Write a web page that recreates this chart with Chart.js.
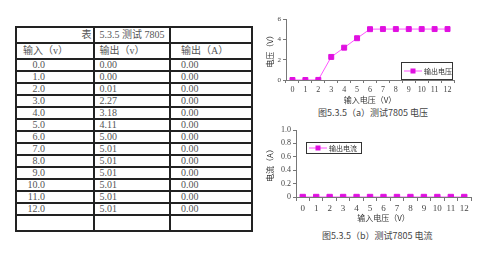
<!DOCTYPE html>
<html>
<head>
    <meta charset="utf-8">
    <title>测试 7805</title>
    <style>
        body {
            margin: 0;
            padding: 0;
            width: 500px;
            height: 262px;
            background: #fff;
            position: relative;
            overflow: hidden;
            font-family: "Liberation Serif", "Noto Sans CJK SC", serif;
        }
        #tbl {
            position: absolute;
            left: 15px;
            top: 26px;
            width: 238px;
            border-collapse: collapse;
            color: #555;
            font-size: 10px;
        }
        #tbl td {
            border: 2px solid #222;
            padding: 0;
            height: 10px;
            line-height: 10px;
            vertical-align: bottom;
        }
        #tbl td.c1 { width: 76px; padding-left: 6px; }
        #tbl td.c2 { width: 77px; padding-left: 5px; }
        #tbl td.c3 { width: 77px; padding-left: 10px; }
        #tbl tr.big td { height: 14px; line-height: 14px; }
        #tbl .num { display: inline-block; width: 22px; text-align: right; }
        .cap {
            position: absolute;
            font-size: 9px;
            color: #444;
            font-family: "Noto Sans CJK SC", sans-serif;
            white-space: nowrap;
        }
        canvas { position: absolute; }
    </style>
    <script src="https://cdn.jsdelivr.net/npm/chart.js"></script>
</head>
<body>
    <table id="tbl"></table>

    <canvas id="chart-v" style="left:255px; top:5px;" width="210" height="100"></canvas>
    <div class="cap" style="left:318px; top:106px;">图5.3.5（a）测试7805 电压</div>

    <canvas id="chart-a" style="left:255px; top:118px;" width="225" height="105"></canvas>
    <div class="cap" style="left:322px; top:229px;">图5.3.5（b）测试7805 电流</div>

    <script>
        const inputV = ['0.0', '1.0', '2.0', '3.0', '4.0', '5.0', '6.0', '7.0', '8.0', '9.0', '10.0', '11.0', '12.0'];
        const outputV = [0.00, 0.00, 0.01, 2.27, 3.18, 4.11, 5.00, 5.01, 5.01, 5.01, 5.01, 5.01, 5.01];
        const outputA = [0.00, 0.00, 0.00, 0.00, 0.00, 0.00, 0.00, 0.00, 0.00, 0.00, 0.00, 0.00, 0.00];
        const xLabels = ['0', '1', '2', '3', '4', '5', '6', '7', '8', '9', '10', '11', '12'];
        const headers = ['输入（v）', '输出（v）', '输出（A）'];

        // table
        const tbl = document.getElementById('tbl');
        let html = '<tr class="big"><td class="c1" style="text-align:right;padding-right:1px">表</td>' +
            '<td class="c2">5.3.5 测试 7805</td><td class="c3"></td></tr>';
        html += '<tr class="big"><td class="c1" style="padding-left:6px">' + headers[0] + '</td><td class="c2">' +
            headers[1] + '</td><td class="c3">' + headers[2] + '</td></tr>';
        for (let i = 0; i < inputV.length; i++) {
            html += '<tr><td class="c1"><span class="num">' + inputV[i] + '</span></td>' +
                '<td class="c2">' + outputV[i].toFixed(2) + '</td>' +
                '<td class="c3">' + outputA[i].toFixed(2) + '</td></tr>';
        }
        html += '<tr class="big"><td class="c1"></td><td class="c2"></td><td class="c3"></td></tr>';
        tbl.innerHTML = html;

        const lineCol = '#ff55ff';
        const dotCol = '#e010e0';

        // legend box drawn inside the plot
        const boxLegend = {
            id: 'boxLegend',
            afterDraw(chart, args, opts) {
                const ctx = chart.ctx;
                const ds = chart.data.datasets[0];
                ctx.save();
                ctx.strokeStyle = '#333';
                ctx.lineWidth = 1;
                ctx.strokeRect(opts.x + 0.5, opts.y + 0.5, opts.w, opts.h);
                const cy = opts.y + opts.h / 2 + 0.5;
                ctx.strokeStyle = lineCol;
                ctx.beginPath();
                ctx.moveTo(opts.x + 3, cy);
                ctx.lineTo(opts.x + 21, cy);
                ctx.stroke();
                ctx.fillStyle = dotCol;
                ctx.fillRect(opts.x + 9.5, cy - 2.5, 5, 5);
                ctx.fillStyle = '#333';
                ctx.font = opts.fs + 'px "Noto Sans CJK SC"';
                ctx.textBaseline = 'middle';
                ctx.fillText(ds.label, opts.x + 23, cy);
                ctx.restore();
            }
        };

        function makeChart(id, data, label, yMax, yStep, sizes) {
            return new Chart(document.getElementById(id), {
                type: 'line',
                data: {
                    labels: xLabels,
                    datasets: [{
                        label: label,
                        data: data,
                        borderColor: lineCol,
                        borderWidth: 1,
                        pointStyle: 'rect',
                        pointRadius: sizes.pr,
                        pointBackgroundColor: dotCol,
                        pointBorderColor: dotCol,
                        tension: 0
                    }]
                },
                options: {
                    responsive: false,
                    animation: false,
                    layout: { padding: { left: 10, top: sizes.top, right: sizes.right, bottom: 0 } },
                    plugins: {
                        legend: { display: false },
                        tooltip: { enabled: false },
                        boxLegend: sizes.legend
                    },
                    scales: {
                        x: {
                            offset: true,
                            grid: { offset: true, drawOnChartArea: false, tickLength: sizes.tl, color: '#777' },
                            border: { color: '#777' },
                            ticks: { color: '#444', padding: 2, maxRotation: 0, autoSkip: false,
                                font: { family: 'Liberation Serif', size: sizes.fx } },
                            title: { display: true, text: '输入电压（V）', color: '#333', padding: 0,
                                font: { family: 'Noto Sans CJK SC', size: 8 } },
                            afterFit(s) { s.height = sizes.xh; }
                        },
                        y: {
                            min: 0,
                            max: yMax,
                            grid: { drawOnChartArea: false, tickLength: 3, color: '#777' },
                            border: { color: '#777' },
                            ticks: { stepSize: yStep, color: '#444', padding: 2,
                                font: { family: 'Liberation Serif', size: sizes.fy } },
                            title: { display: true, text: sizes.ytitle, color: '#333', padding: 0,
                                font: { family: 'Noto Sans CJK SC', size: 8 } },
                            afterFit(s) { s.width = sizes.yw; }
                        }
                    }
                },
                plugins: [boxLegend]
            });
        }

        makeChart('chart-v', outputV, '输出电压', 6, 1, {
            pr: 3.5, top: 14, right: 11, tl: 3, fx: 8, fy: 7, xh: 25, yw: 21,
            ytitle: '电压（V）',
            legend: { x: 146, y: 57, w: 51, h: 17, fs: 7 }
        });

        makeChart('chart-a', outputA, '输出电流', 1, 0.1, {
            pr: 3.8, top: 12, right: 9, tl: 4, fx: 9, fy: 8, xh: 26, yw: 31,
            ytitle: '电流（A）',
            legend: { x: 51, y: 24, w: 55, h: 11, fs: 7 }
        });
    </script>
</body>
</html>
